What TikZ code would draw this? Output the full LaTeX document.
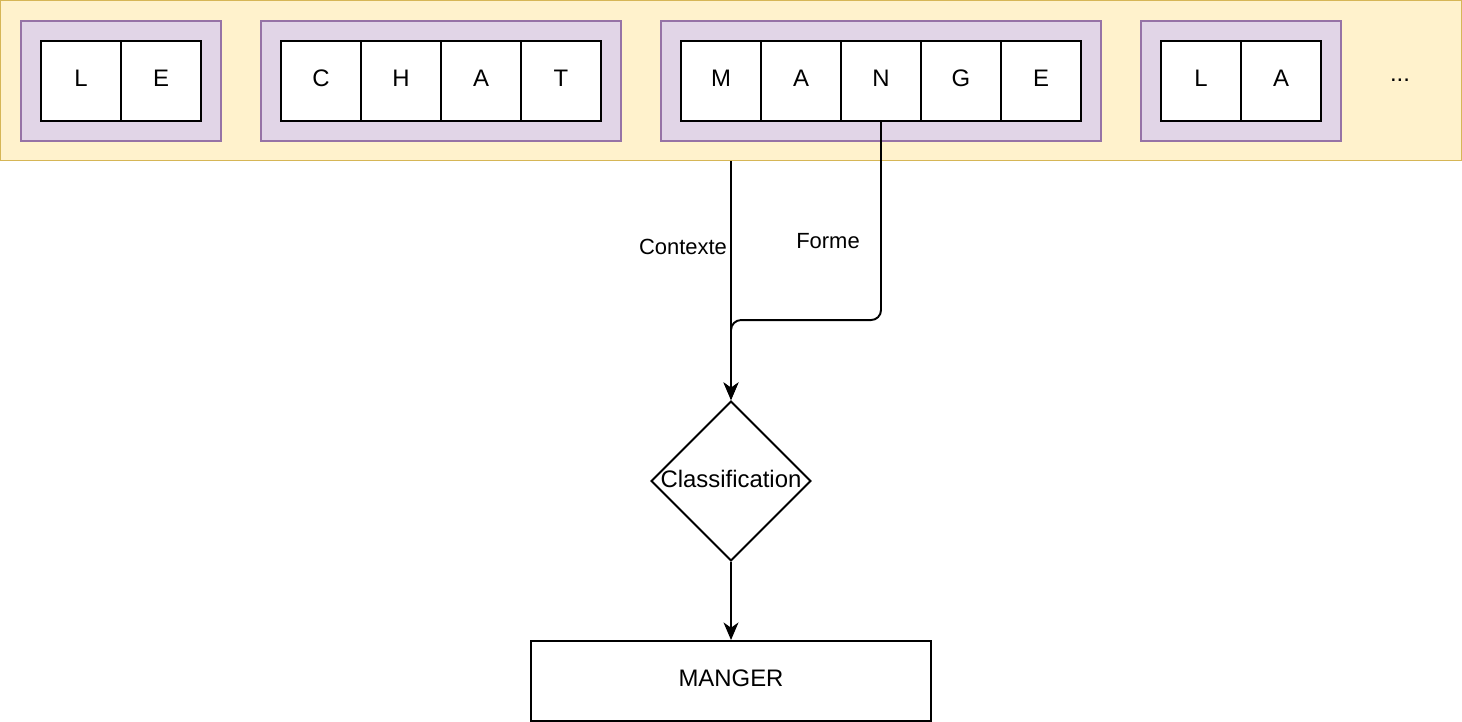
\documentclass[tikz,border=0pt]{standalone}
\usepackage{fontspec}
\setmainfont{Liberation Sans}
\usetikzlibrary{arrows.meta,positioning,shapes.geometric,calc}
\definecolor{bgfill}{HTML}{FFF2CC}
\definecolor{bgdraw}{HTML}{D6B656}
\definecolor{wdfill}{HTML}{E1D5E7}
\definecolor{wddraw}{HTML}{9673A6}

\begin{document}
\begin{tikzpicture}[
  x=0.02cm, y=-0.02cm,
  every node/.style={font=\fontsize{13.6}{16}\selectfont},
  band/.style={draw=bgdraw, fill=bgfill, line width=1.1pt, minimum width=29.24cm, minimum height=3.2cm, inner sep=0},
  word/.style={draw=wddraw, fill=wdfill, line width=1.1pt, minimum height=2.4cm, inner sep=0},
  cell/.style={draw, fill=white, line width=1.1pt, minimum width=1.6cm, minimum height=1.6cm, inner sep=0, text depth=3pt},
  decision/.style={diamond, draw, line width=1.1pt, minimum width=3.2cm, minimum height=3.2cm, inner sep=0, aspect=1},
  result/.style={draw, line width=1.1pt, minimum width=8cm, minimum height=1.6cm, inner sep=0, text depth=3pt},
  arrow/.style={-{Stealth[length=10pt,width=8.5pt,inset=3pt]}, line width=1.1pt},
  lbl/.style={font=\fontsize{12.5}{15}\selectfont}
]
\useasboundingbox (0,0) rectangle (1462,722);

% phrase band
\node[band] (phrase) at (731,80.5) {};
\node[word, minimum width=4cm] (w1) at (121,81) {};
\node[word, minimum width=7.2cm] (w2) at (441,81) {};
\node[word, minimum width=8.8cm] (w3) at (881,81) {};
\node[word, minimum width=4cm] (w4) at (1241,81) {};
\foreach \ch [count=\i] in {L,E} \node[cell] (w1c\i) at ({1+80*\i},81) {\ch};
\foreach \ch [count=\i] in {C,H,A,T} \node[cell] (w2c\i) at ({241+80*\i},81) {\ch};
\foreach \ch [count=\i] in {M,A,N,G,E} \node[cell] (w3c\i) at ({641+80*\i},81) {\ch};
\foreach \ch [count=\i] in {L,A} \node[cell] (w4c\i) at ({1121+80*\i},81) {\ch};
\node (more) at (1400,80) {...};

% classification
\node[decision, label={[yshift=1pt]center:Classification}] (cls) at (731,481) {};
\node[result] (out) at (731,681) {MANGER};

\draw[arrow] (phrase.south -| cls.north) -- (cls.north);
\draw[arrow, rounded corners=5.7pt] (w3c3.south) |- ($(cls.north)+(0,-80)$) -- (cls.north);
\draw[arrow] (cls.south) -- (out.north);

\node[lbl] (ctx) at (683,247) {Contexte};
\node[lbl] (frm) at (828,241) {Forme};
\end{tikzpicture}
\end{document}
